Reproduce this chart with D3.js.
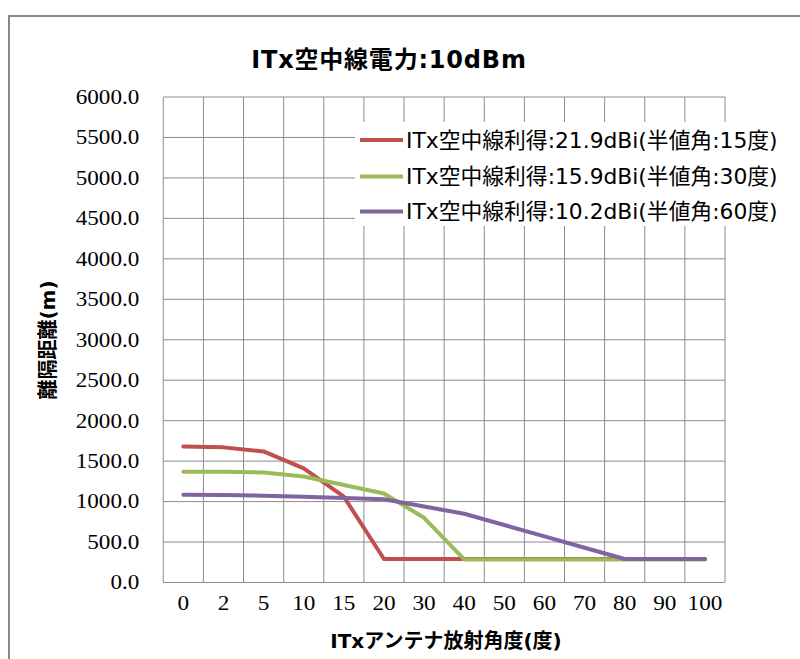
<!DOCTYPE html>
<html><head><meta charset="utf-8">
<script src="https://cdn.jsdelivr.net/npm/d3@7"></script>
<style>html,body{margin:0;padding:0;background:#fff;overflow:hidden}
.tick text{font-family:'Liberation Serif','DejaVu Serif','Times New Roman',serif !important;}</style>
</head><body>
<svg id="c" width="800" height="659"></svg>
<script>
const categories = ["0","2","5","10","15","20","30","40","50","60","70","80","90","100"];
const seriesNames = ["ITx空中線利得:21.9dBi(半値角:15度)","ITx空中線利得:15.9dBi(半値角:30度)","ITx空中線利得:10.2dBi(半値角:60度)"];
const red    = [1680,1670,1620,1410,1060,290,290,290,290,290,290,290,290,290];
const green  = [1370,1370,1360,1310,1205,1100,800,285,285,285,285,285,285,285];
const purple = [1085,1080,1073,1061,1045,1028,940,850,710,570,430,290,290,290];
const colors = ["#C0504D","#9BBB59","#8064A2"];
const yTicks = [0,500,1000,1500,2000,2500,3000,3500,4000,4500,5000,5500,6000];
const title = "ITx空中線電力:10dBm";
const xTitle = "ITxアンテナ放射角度(度)";
const yTitle = "離隔距離(m)";

const svg = d3.select("#c");
const L = 163.3, R = 725, T = 97, B = 582.5;
const x = d3.scaleBand().domain(categories).range([L, R]).padding(0);
const y = d3.scaleLinear().domain([0, 6000]).range([B, T]);
const grid = "#8c8c8c";
const sans = "'DejaVu Sans','Noto Sans CJK JP',sans-serif";
// width of a numeric label in the wide serif face
const numWidth = s => s.split("").reduce((a, c) => a + (c === "." ? 5.6 : 11.6), 0);

// outer chart frame
svg.append("rect").attr("x", 9).attr("y", 16).attr("width", 820).attr("height", 700)
  .attr("fill", "#fff").attr("stroke", "#888").attr("stroke-width", 2);

// title
svg.append("text").attr("x", 389).attr("y", 68).attr("text-anchor", "middle")
  .style("font-family", sans).attr("font-weight", "bold")
  .attr("font-size", 24).attr("letter-spacing", 0.8).attr("fill", "#000").text(title);

// horizontal gridlines
svg.append("g").selectAll("line").data(yTicks).join("line")
  .attr("x1", L).attr("x2", R).attr("y1", d => y(d)).attr("y2", d => y(d))
  .attr("stroke", grid).attr("stroke-width", 1);
// vertical gridlines (category boundaries)
const bounds = categories.map(c => x(c)).concat([R]);
svg.append("g").selectAll("line").data(bounds).join("line")
  .attr("x1", d => d).attr("x2", d => d).attr("y1", T).attr("y2", B)
  .attr("stroke", grid).attr("stroke-width", 1);

// y axis labels
const fmt = d3.format(".1f");
const yAxis = d3.axisLeft(y).tickValues(yTicks).tickFormat(fmt).tickSize(0).tickPadding(24);
const gy = svg.append("g").attr("transform", `translate(${L},0)`).call(yAxis);
gy.select(".domain").remove();
gy.selectAll("text").attr("font-size", 20).attr("fill", "#000")
  .attr("textLength", d => numWidth(fmt(d))).attr("lengthAdjust", "spacingAndGlyphs");

// x axis labels
const xAxis = d3.axisBottom(x).tickSize(0).tickPadding(13);
const gx = svg.append("g").attr("transform", `translate(0,${B})`).call(xAxis);
gx.select(".domain").remove();
gx.selectAll("text").attr("font-size", 20).attr("fill", "#000")
  .attr("textLength", d => numWidth(d)).attr("lengthAdjust", "spacingAndGlyphs");

// axis titles
svg.append("text").attr("x", 446).attr("y", 648).attr("text-anchor", "middle")
  .style("font-family", sans).attr("font-weight", "bold")
  .attr("font-size", 20).attr("fill", "#000").text(xTitle);
svg.append("text").attr("transform", "translate(55,340) rotate(-90)").attr("text-anchor", "middle")
  .style("font-family", sans).attr("font-weight", "bold")
  .attr("font-size", 20).attr("fill", "#000").text(yTitle);

// series lines
const series = [red, green, purple];
const line = d3.line().x((d, i) => x(categories[i]) + x.bandwidth() / 2).y(d => y(d));
series.forEach((s, k) => {
  svg.append("path").datum(s).attr("d", line).attr("fill", "none")
    .attr("stroke", colors[k]).attr("stroke-width", 4).attr("stroke-linejoin", "round").attr("stroke-linecap", "round");
});

// legend
const lg = svg.append("g");
lg.append("rect").attr("x", 355).attr("y", 122).attr("width", 428).attr("height", 104).attr("fill", "#fff");
const rowY = [140, 176.5, 211.5];
seriesNames.forEach((n, k) => {
  lg.append("line").attr("x1", 360).attr("x2", 403).attr("y1", rowY[k]).attr("y2", rowY[k])
    .attr("stroke", colors[k]).attr("stroke-width", 4);
  lg.append("text").attr("x", 406).attr("y", rowY[k]).attr("dy", "0.36em")
    .style("font-family", sans).attr("font-size", 21.8)
    .attr("fill", "#000").text(n);
});
</script>
</body></html>
